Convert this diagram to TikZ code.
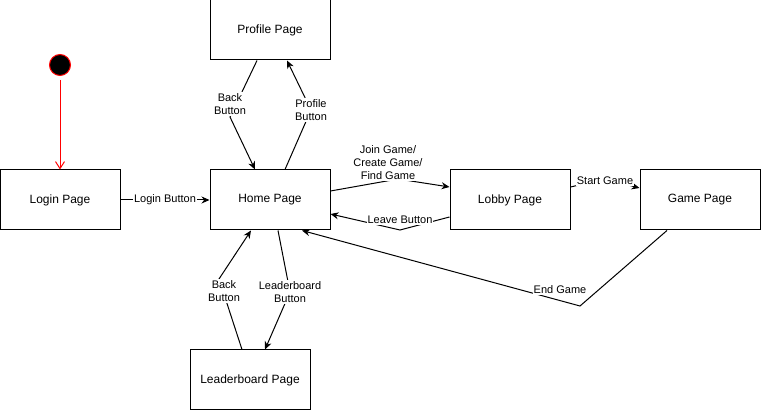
\documentclass[tikz,border=0pt]{standalone}
\usepackage{fontspec}
\setmainfont{Liberation Sans}
\usetikzlibrary{arrows.meta}

\begin{document}
\begin{tikzpicture}[x=1pt,y=-1pt,
  page/.style={draw,line width=1pt,minimum width=120pt,minimum height=60pt,font=\fontsize{12}{14}\selectfont},
  edge/.style={line width=1pt,-{Stealth[length=8pt,width=7pt]}},
  lbl/.style={fill=white,inner sep=1pt,align=center,font=\fontsize{11}{13}\selectfont}]
\useasboundingbox (0,0) rectangle (761,411);
\node[circle,draw=red,fill=black,line width=1pt,minimum size=21pt,inner sep=0pt] (start) at (60,65) {};
\node[page] (login) at (60,200) {Login Page};
\node[page] (home) at (270,200) {Home Page};
\node[page] (profile) at (270,30) {Profile Page};
\node[page] (lobby) at (510,200) {Lobby Page};
\node[page] (game) at (700,200) {Game Page};
\node[page] (leader) at (250,380) {Leaderboard Page};
\draw[red,line width=1pt,shorten <=4pt,-{Straight Barb[length=7pt,width=9pt]}] (start) -- (login);
\draw[edge] (login) -- node[lbl] {Login Button} (home);
\draw[edge] ([xshift=-13pt]profile.south) -- (230,117) node[lbl,yshift=13pt] {Back\\Button} -- ([xshift=-15pt]home.north);
\draw[edge] ([xshift=15pt]home.north) -- (311,110) node[lbl] {Profile\\Button} -- ([xshift=17pt]profile.south);
\draw[edge] ([yshift=9pt]home.east) -- (398,179) node[lbl,xshift=-10pt,yshift=16pt] {Join Game/\\Create Game/\\Find Game} -- ([yshift=13pt]lobby.west);
\draw[edge] ([yshift=-17pt]lobby.west) -- (400,230) node[lbl,yshift=10pt] {Leave Button} -- ([yshift=-14pt]home.east);
\draw[edge] ([yshift=13pt]lobby.east) -- (605,179) node[lbl,yshift=-2pt] {Start Game} -- ([yshift=12pt]game.west);
\draw[edge] ([xshift=8pt]home.south) -- (290,292) node[lbl] {Leaderboard\\Button} -- ([xshift=15pt]leader.north);
\draw[edge] ([xshift=-8pt]leader.north) -- (219,279) node[lbl,xshift=5pt,yshift=-12pt] {Back\\Button} -- ([xshift=-19pt]home.south);
\draw[edge] ([xshift=-33pt]game.south) -- (580,306) -- ([xshift=32pt]home.south);
\node[lbl] (endlbl) at (560,290) {End Game};
\end{tikzpicture}
\end{document}
